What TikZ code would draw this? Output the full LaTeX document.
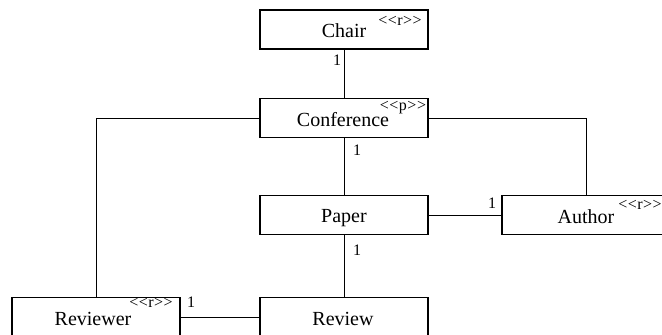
\documentclass[tikz,border=0pt]{standalone}
\usepackage{fontspec}
\setmainfont{Liberation Serif}
\newcommand{\ststereo}[1]{\textless\kern0.5pt\textless\kern0.5pt #1\kern0.5pt\textgreater\kern0.5pt\textgreater}
\begin{document}
\begin{tikzpicture}[x=1pt,y=-1pt,
  cls/.style={draw=black,line width=1.5pt,minimum width=168pt,minimum height=39pt,inner sep=0pt},
  lbl/.style={font=\fontsize{20}{22}\selectfont,anchor=base,inner sep=0pt},
  stereo/.style={font=\fontsize{16}{16}\selectfont,inner sep=0pt},
  mult/.style={font=\fontsize{16}{18}\selectfont,inner sep=0pt},
  conn/.style={line width=1pt}]
\useasboundingbox (0,0) rectangle (662,335);
\clip (0,0) rectangle (662,335);
\node[cls] (chair) at (344,29.5) {};
\node[cls] (conf) at (344,118) {};
\node[cls] (paper) at (344,215) {};
\node[cls] (author) at (586,215) {};
\node[cls] (reviewer) at (96,317) {};
\node[cls] (review) at (344,317) {};
\node[lbl] (tchair) at (344,37) {Chair};
\node[lbl] (tconf) at (343,126) {Conference};
\node[lbl] (tpaper) at (344,222) {Paper};
\node[lbl] (tauthor) at (586,223) {Author};
\node[lbl] (treviewer) at (93,325) {Reviewer};
\node[lbl] (treview) at (343,325) {Review};
\node[stereo] (schair) at (400,21) {\ststereo{r}};
\node[stereo] (sconf) at (403,108) {\ststereo{p}};
\node[stereo] (sauthor) at (640,205) {\ststereo{r}};
\node[stereo] (sreviewer) at (151,303) {\ststereo{r}};
\draw[conn] (chair.south) -- (conf.north);
\draw[conn] (conf.south) -- (paper.north);
\draw[conn] (paper.south) -- (review.north);
\draw[conn] (paper.east) -- (author.west);
\draw[conn] (reviewer.east) -- (review.west);
\draw[conn] (conf.west) -| (reviewer.north);
\draw[conn] (conf.east) -| (author.north);
\node[mult] (m1) at (337,60) {1};
\node[mult] (m2) at (357,150) {1};
\node[mult] (m3) at (357,250) {1};
\node[mult] (m4) at (492,203) {1};
\node[mult] (m5) at (191,302) {1};
\end{tikzpicture}
\end{document}
